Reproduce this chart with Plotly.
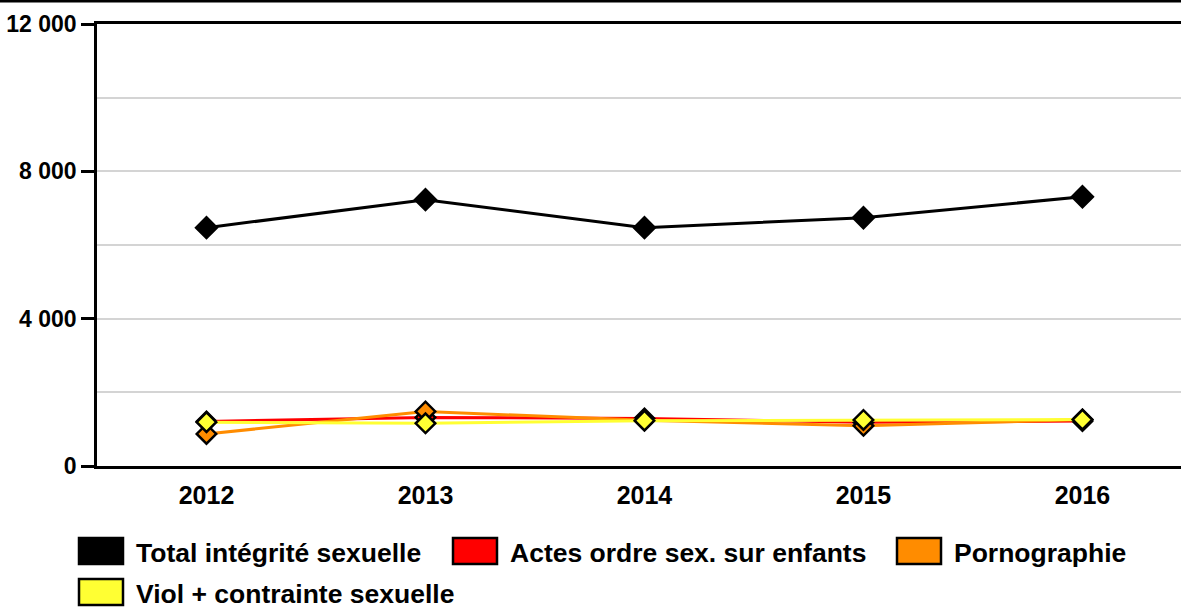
import plotly.graph_objects as go

years = ["2012", "2013", "2014", "2015", "2016"]
total = [6470, 7230, 6470, 6740, 7310]
actes_enfants = [1210, 1320, 1290, 1190, 1220]
pornographie = [870, 1480, 1240, 1090, 1260]
viol = [1190, 1160, 1230, 1250, 1260]

series_names = ["Total intégrité sexuelle", "Actes ordre sex. sur enfants", "Pornographie",
                "Viol + contrainte sexuelle"]
series_values = [total, actes_enfants, pornographie, viol]
series_colors = ["#000000", "#ff0000", "#ff8c00", "#ffff33"]

W, H = 1181, 609
L, R, T, B = 97, 0, 24, 143
PW, PH = W - L - R, H - T - B

def px(xp):
    return (xp - L) / PW

def py(yp):
    return (H - B - yp) / PH

fig = go.Figure()
for name, vals, col in zip(series_names, series_values, series_colors):
    fig.add_trace(go.Scatter(
        x=years, y=vals, name=name, mode="lines+markers",
        line=dict(color=col, width=3),
        marker=dict(symbol="diamond", size=15 if col != "#000000" else 16,
                    color=col, line=dict(color="#000000", width=2.5)),
        showlegend=False,
    ))

FAM = "Liberation Sans, Arial, sans-serif"
xfont = dict(family=FAM, size=25, color="#000000", weight="bold")
yfont = dict(family=FAM, size=23, color="#000000", weight="bold")

fig.update_layout(
    width=W, height=H, margin=dict(l=L, r=R, t=T, b=B),
    paper_bgcolor="white", plot_bgcolor="white",
    separators=", ", font=dict(family=FAM, color="#000000"),
    xaxis=dict(type="category", range=[-0.5, 4.45], showline=True, linecolor="#000000",
               linewidth=2.5, mirror=True, showgrid=False, ticks="outside", ticklen=5,
               tickcolor="rgba(0,0,0,0)", tickfont=xfont, zeroline=False),
    yaxis=dict(range=[0, 12000], dtick=4000, tickformat=",d", showline=True,
               linecolor="#000000", linewidth=2.5, ticks="outside", ticklen=13,
               tickwidth=2.5, tickcolor="#000000", showgrid=True, gridcolor="#d4d4d4",
               gridwidth=2, zeroline=False, tickfont=yfont,
               minor=dict(dtick=2000, showgrid=True, gridcolor="#d4d4d4", gridwidth=2)),
)

# top border line
fig.add_shape(type="line", xref="paper", yref="paper", x0=0 - L / PW, x1=1, y0=py(1), y1=py(1),
              line=dict(color="#000000", width=3))

# legend (manual)
legend_pos = [(79, 551), (453, 551), (897, 551), (79, 592)]
for (lx, ly), name, col in zip(legend_pos, series_names, series_colors):
    fig.add_shape(type="rect", xref="paper", yref="paper",
                  x0=px(lx), x1=px(lx + 44), y0=py(ly - 13), y1=py(ly + 13),
                  fillcolor=col, line=dict(color="#000000", width=2.5))
    fig.add_annotation(xref="paper", yref="paper", x=px(lx + 55), y=py(ly + 2),
                       text=name, showarrow=False, xanchor="left", yanchor="middle",
                       font=dict(family=FAM, size=26.5, color="#000000", weight="bold"))

fig.write_html("out.html", config={"displayModeBar": False},
               post_script="document.body.style.margin='0px';")
